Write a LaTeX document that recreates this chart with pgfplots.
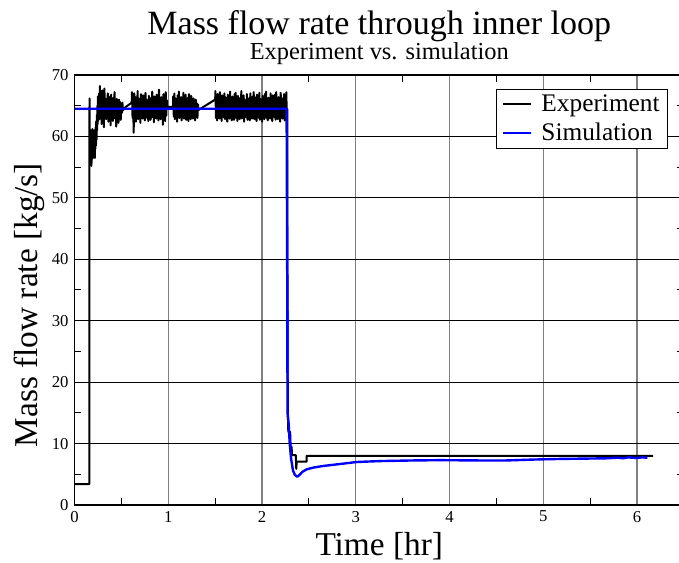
\documentclass[border=0pt]{standalone}
\usepackage{fontspec}
\setmainfont{Liberation Serif}
\usepackage{pgfplots}
\usepackage{pgfplotstable}
\pgfplotsset{compat=1.18}
\usetikzlibrary{calc}

\pgfplotstableread{
x y
0 3.4
0.158 3.4
0.160 66.2
0.163 55.5
0.166 60.5
0.169 56.0
0.172 61.0
0.175 57.0
0.178 60.0
0.181 55.2
0.184 59.5
0.187 57.5
0.190 61.2
0.193 56.4
0.196 60.2
0.199 57.0
0.202 59.8
0.205 56.8
0.208 61.0
0.211 57.5
0.214 60.5
0.217 56.5
0.220 59.0
0.223 58.0
0.226 61.5
0.229 58.5
0.232 62.5
0.235 59.5
0.238 63.5
0.241 61.0
0.244 65.0
0.247 62.0
0.250 66.5
0.253 62.5
0.256 65.5
0.259 63.0
0.262 67.0
0.265 62.8
0.268 66.0
0.271 68.2
0.277 63.2
0.283 66.4
0.289 62.0
0.295 67.5
0.301 63.8
0.307 66.0
0.313 61.5
0.319 67.8
0.325 63.5
0.331 66.2
0.337 62.8
0.343 65.9
0.349 64.0
0.355 67.0
0.361 62.4
0.367 66.5
0.373 63.0
0.379 65.8
0.385 61.8
0.391 66.8
0.397 63.5
0.403 65.5
0.409 62.5
0.415 66.3
0.421 63.9
0.427 67.2
0.433 62.9
0.439 65.7
0.445 61.6
0.451 66.1
0.457 63.3
0.463 65.4
0.469 62.2
0.475 66.0
0.481 63.6
0.487 65.6
0.493 62.7
0.499 65.2
0.505 63.8
0.511 65.5
0.517 64.2
0.520 64.5
0.610 65.5
0.613 67.2
0.619 63.0
0.625 66.0
0.631 60.6
0.637 67.0
0.643 63.5
0.649 66.4
0.655 62.4
0.661 65.8
0.667 63.8
0.673 67.4
0.679 62.8
0.685 66.2
0.691 63.4
0.697 65.6
0.703 62.2
0.709 66.9
0.715 63.6
0.721 65.5
0.727 62.9
0.733 66.7
0.739 63.2
0.745 65.9
0.751 62.6
0.757 67.1
0.763 63.7
0.769 66.0
0.775 63.0
0.781 65.4
0.787 62.5
0.793 66.6
0.799 63.9
0.805 65.7
0.811 62.7
0.817 66.3
0.823 63.1
0.829 67.3
0.835 63.5
0.841 65.8
0.847 62.3
0.853 66.5
0.859 63.8
0.865 65.6
0.871 62.9
0.877 66.8
0.883 63.3
0.889 66.1
0.895 62.6
0.901 67.6
0.907 63.6
0.913 65.5
0.919 62.8
0.925 66.4
0.931 63.2
0.937 66.0
0.943 61.9
0.949 66.9
0.955 63.7
0.961 65.7
0.967 62.5
0.973 67.2
0.979 63.4
0.985 65.9
0.990 64.8
1.050 64.8
1.053 66.5
1.059 63.2
1.065 67.0
1.071 62.8
1.077 66.2
1.083 63.6
1.089 65.8
1.095 62.4
1.101 66.7
1.107 63.3
1.113 67.3
1.119 63.0
1.125 65.9
1.131 63.8
1.137 66.4
1.143 62.6
1.149 66.0
1.155 63.5
1.161 67.1
1.167 62.9
1.173 65.6
1.179 63.4
1.185 66.8
1.191 62.7
1.197 65.7
1.203 63.9
1.209 66.3
1.215 62.5
1.221 66.9
1.227 63.1
1.233 65.5
1.239 62.8
1.245 66.6
1.251 63.6
1.257 65.9
1.263 62.9
1.269 66.2
1.275 63.3
1.281 65.8
1.287 62.6
1.293 66.0
1.299 63.5
1.305 65.4
1.311 63.0
1.317 65.2
1.322 64.3
1.500 66.0
1.503 67.4
1.509 63.0
1.515 66.3
1.521 62.6
1.527 66.9
1.533 63.7
1.539 65.8
1.545 62.9
1.551 67.2
1.557 63.4
1.563 66.1
1.569 62.5
1.575 66.7
1.581 63.8
1.587 65.6
1.593 63.1
1.599 67.0
1.605 62.8
1.611 66.4
1.617 63.5
1.623 65.9
1.629 62.4
1.635 66.8
1.641 63.6
1.647 66.0
1.653 62.9
1.659 67.3
1.665 63.2
1.671 65.7
1.677 62.6
1.683 66.5
1.689 63.9
1.695 65.8
1.701 62.7
1.707 66.9
1.713 63.3
1.719 67.1
1.725 63.0
1.731 65.6
1.737 62.5
1.743 66.6
1.749 63.7
1.755 65.9
1.761 62.8
1.767 66.3
1.773 63.4
1.779 67.4
1.785 62.9
1.791 65.7
1.797 63.6
1.803 66.7
1.809 62.4
1.815 66.0
1.821 63.5
1.827 65.5
1.833 63.1
1.839 66.9
1.845 62.7
1.851 66.2
1.857 63.8
1.863 65.8
1.869 62.6
1.875 67.0
1.881 63.3
1.887 65.6
1.893 62.9
1.899 66.5
1.905 63.7
1.911 67.2
1.917 62.8
1.923 65.9
1.929 63.4
1.935 66.4
1.941 62.5
1.947 66.8
1.953 63.6
1.959 65.7
1.965 63.0
1.971 67.1
1.977 62.7
1.983 66.1
1.989 63.5
1.995 65.8
2.001 62.4
2.007 66.6
2.013 63.9
2.019 65.6
2.025 62.8
2.031 66.9
2.037 63.2
2.043 67.3
2.049 63.0
2.055 65.7
2.061 62.6
2.067 66.3
2.073 63.7
2.079 65.9
2.085 62.9
2.091 67.0
2.097 63.4
2.103 66.0
2.109 62.5
2.115 66.7
2.121 63.6
2.127 65.5
2.133 63.1
2.139 66.8
2.145 62.7
2.151 67.2
2.157 63.3
2.163 65.8
2.169 62.8
2.175 66.4
2.181 63.8
2.187 65.9
2.193 62.4
2.199 67.1
2.205 63.5
2.211 66.2
2.217 62.9
2.223 65.6
2.229 63.2
2.235 66.9
2.241 62.6
2.247 66.1
2.253 63.7
2.259 67.2
2.265 62.3
2.269 64.5
2.270 47.0
2.275 15.0
2.280 11.9
2.300 11.9
2.305 9.5
2.315 9.5
2.320 8.1
2.360 8.1
2.365 5.9
2.370 7.05
2.475 7.05
2.475 8.0
6.170 8.0
}\exptable

\pgfplotstableread{
x y
0 64.5
2.262 64.5
2.268 40
2.272 15
2.285 13.0
2.295 10.0
2.31 7.5
2.33 5.6
2.35 4.9
2.375 4.6
2.40 4.9
2.43 5.4
2.475 5.8
2.55 6.1
2.65 6.35
2.83 6.67
3.01 7.0
3.26 7.15
3.6 7.25
3.9 7.3
4.32 7.25
4.6 7.25
4.9 7.4
5.18 7.5
5.67 7.6
5.8 7.7
5.85 7.6
5.9 7.75
6.0 7.65
6.05 7.75
6.11 7.7
}\simtable

\begin{document}
\begin{tikzpicture}
\begin{axis}[
  name=ax,
  scale only axis,
  width=457.125pt, height=322.5pt,
  xmin=0, xmax=6.5, ymin=0, ymax=70,
  xtick={0,1,...,6}, ytick={0,10,...,70},
  minor x tick num=1, minor y tick num=1,
  tick align=inside,
  major tick length=0pt, minor tick length=5pt,
  tick style={black, line width=0.75pt},
  grid=major,
  x grid style={gray, line width=1pt},
  y grid style={black, line width=0.75pt},
  axis line style={black, line width=1pt},
  /pgf/number format/assume math mode=true,
  tick label style={font=\fontsize{12.5}{15}\selectfont},
  xticklabel style={yshift=-1pt},
  yticklabel style={xshift=-1pt},
  xlabel={Time [hr]},
  ylabel={Mass flow rate [kg/s]},
  xlabel style={font=\fontsize{25}{30}\selectfont, at={(axis description cs:0.5,-0.1163)}, anchor=base},
  ylabel style={font=\fontsize{25}{30}\selectfont, at={(axis description cs:-0.0613,0.465)}, anchor=base, rotate=0},
  legend style={at={(axis description cs:0.974,0.967)}, anchor=north east,
    draw=black, line width=0.75pt, font=\fontsize{19}{21}\selectfont,
    inner xsep=4pt, inner ysep=2pt, row sep=3pt,
    /tikz/every odd column/.append style={column sep=5pt}},
  legend cell align=left,
  legend image code/.code={\draw[#1, line width=1.5pt] (0pt,0pt) -- (21pt,0pt);},
]
\addplot[black, line width=1.5pt, line join=round] table[x=x,y=y] {\exptable};
\addlegendentry{Experiment}
\addplot[blue, line width=1.8pt, line join=round] table[x=x,y=y] {\simtable};
\addlegendentry{Simulation}
\end{axis}
\node[anchor=base, font=\fontsize{18.3}{21}\selectfont] at ($(ax.north)+(0,11.25pt)$) {Experiment vs. simulation};
\node[anchor=base, font=\fontsize{25.5}{30}\selectfont] at ($(ax.north)+(0,30pt)$) {Mass flow rate through inner loop};
\pgfresetboundingbox
\path[use as bounding box] ($(ax.south west)+(-55.875pt,-42.75pt)$) rectangle ($(ax.north east)+(-3.75pt,56.25pt)$);
\end{tikzpicture}
\end{document}
